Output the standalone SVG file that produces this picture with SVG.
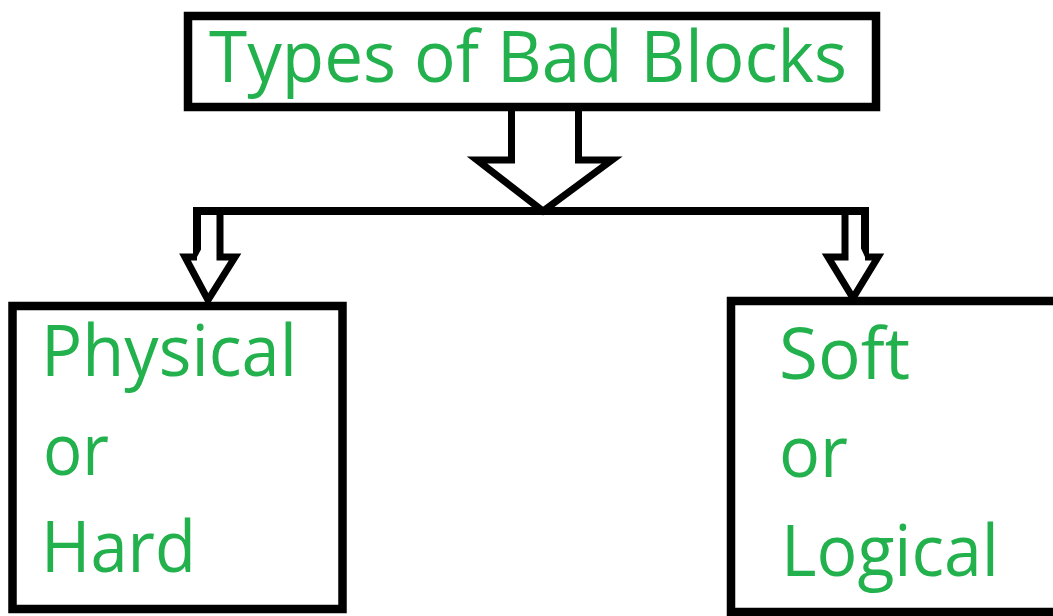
<svg xmlns="http://www.w3.org/2000/svg" width="1053" height="616" viewBox="0 0 1053 616">
  <style>
    .box { fill: #ffffff; stroke: #000000; stroke-width: 8.5; }
    .wire { fill: none; stroke: #000000; stroke-width: 8; stroke-linejoin: miter; }
    .head { fill: #ffffff; stroke: #000000; stroke-width: 7; stroke-linejoin: miter; stroke-miterlimit: 4; }
    .label { font-family: "Open Sans", "Liberation Sans", sans-serif; font-size: 71px; fill: #22b14c; }
  </style>
  <rect width="1053" height="616" fill="#ffffff"/>

  <!-- connectors: big hollow arrow, branch bar and two small hollow arrows -->
  <g id="connectors">
    <polyline class="head" points="511.5,108 511.5,160 477,160 543,211 612,160 578.5,160 578.5,108"/>
    <path class="wire" d="M 197 257 V 211 H 865 V 257"/>
    <polyline class="head" points="220,214 220,257 235,257 208,300 185,257 197,257"/>
    <polyline class="head" points="845,214 845,257 828,257 853,298 878,257 865,257"/>
  </g>

  <g id="node-root">
    <rect class="box" x="188" y="16" width="688" height="91"/>
    <text class="label" x="209" y="82" textLength="638" lengthAdjust="spacingAndGlyphs">Types of Bad Blocks</text>
  </g>

  <g id="node-physical">
    <rect class="box" x="12.5" y="306" width="330" height="303"/>
    <text class="label" x="41" y="376" textLength="256" lengthAdjust="spacingAndGlyphs">Physical</text>
    <text class="label" x="43" y="475" textLength="66" lengthAdjust="spacingAndGlyphs">or</text>
    <text class="label" x="41" y="572" textLength="155" lengthAdjust="spacingAndGlyphs">Hard</text>
  </g>

  <g id="node-soft">
    <rect class="box" x="731" y="301" width="340" height="311"/>
    <text class="label" x="779" y="379" textLength="131" lengthAdjust="spacingAndGlyphs">Soft</text>
    <text class="label" x="779" y="477" textLength="69" lengthAdjust="spacingAndGlyphs">or</text>
    <text class="label" x="781" y="576" textLength="218" lengthAdjust="spacingAndGlyphs">Logical</text>
  </g>
</svg>
